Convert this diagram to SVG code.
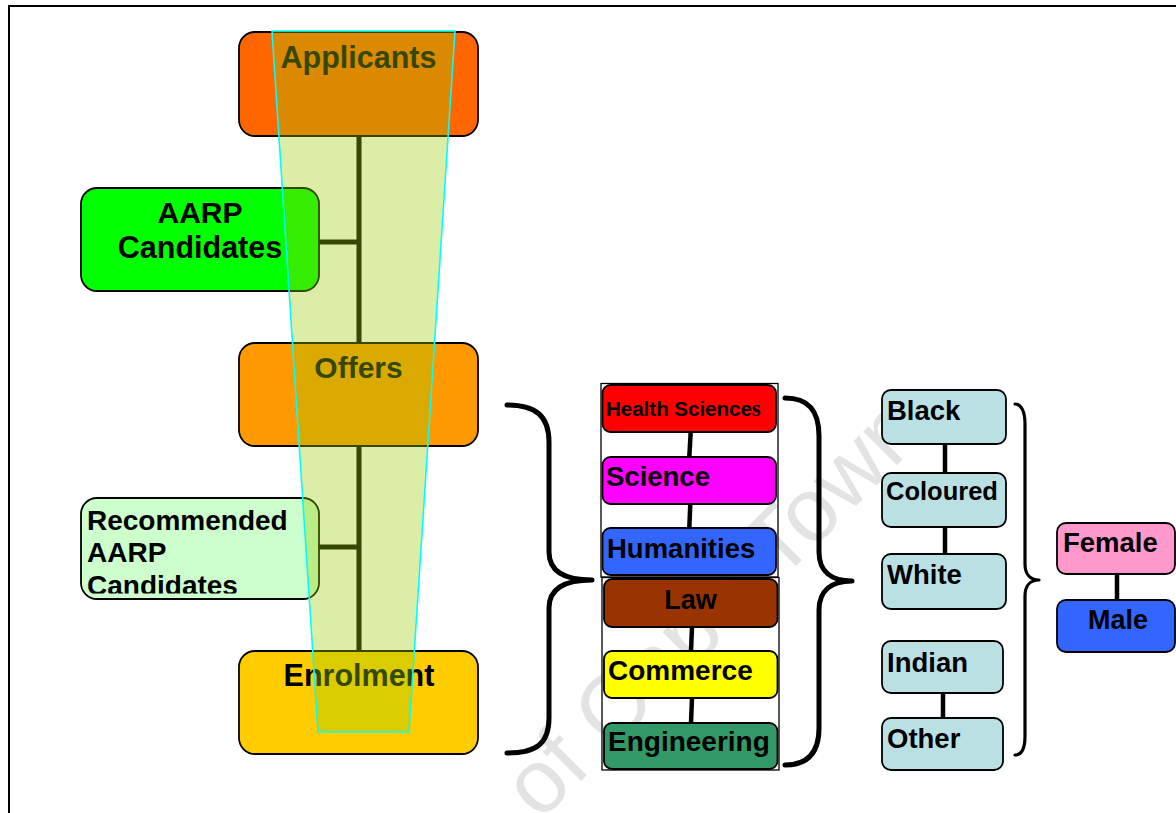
<svg xmlns="http://www.w3.org/2000/svg" width="1176" height="813" viewBox="0 0 1176 813">
  <style>
    .box { stroke:#000; stroke-width:1.8; }
    .t { font-family:"Liberation Sans", Arial, sans-serif; font-weight:bold; fill:#000; }
    .conn { stroke:#000; stroke-width:5; fill:none; }
    .thin { stroke:#000; stroke-width:4.5; fill:none; }
    .brace { fill:none; stroke:#000; stroke-width:5; stroke-linecap:round; stroke-linejoin:round; }
    .brace2 { fill:none; stroke:#000; stroke-width:3.2; stroke-linecap:round; stroke-linejoin:round; }
    .race { fill:#BBE0E3; }
    .frame { fill:none; stroke:#000; stroke-width:1.3; }
  </style>
  <defs>
    <clipPath id="recClip"><rect x="81" y="498" width="238" height="95.5"/></clipPath>
  </defs>
  <rect width="1176" height="813" fill="#fff"/>
  <path d="M9,813 V6 H1176" fill="none" stroke="#000" stroke-width="2"/>

  <g id="watermark">
    <text transform="translate(540,822) rotate(-45)" font-family="Liberation Sans, Arial, sans-serif" font-size="90" fill="#e3e3e3">of Cape Town</text>
  </g>

  <g id="connectors">
    <line class="conn" x1="359" y1="136" x2="359" y2="343"/>
    <line class="conn" x1="319" y1="242" x2="359" y2="242"/>
    <line class="conn" x1="359" y1="446" x2="359" y2="651"/>
    <line class="conn" x1="319" y1="547" x2="359" y2="547"/>
    <line class="thin" x1="690.7" y1="432" x2="689.3" y2="457"/>
    <line class="thin" x1="690.3" y1="504" x2="689.3" y2="528"/>
    <line class="thin" x1="692" y1="627" x2="691" y2="651"/>
    <line class="thin" x1="692" y1="698" x2="691" y2="723"/>
    <line class="thin" x1="945" y1="444" x2="945" y2="473"/>
    <line class="thin" x1="945" y1="527" x2="945" y2="554"/>
    <line class="thin" x1="943" y1="693" x2="943" y2="718"/>
    <line class="thin" x1="1117" y1="574" x2="1117" y2="600"/>
  </g>

  <g id="braces">
    <path class="brace" d="M507,405 C536,405 549,416 549,442 L549,552 C549,570 563,580 592,580 C563,580 549,590 549,608 L549,718 C549,744 536,753 507,753"/>
    <path class="brace" d="M785,398 C808,398 819,410 819,436 L819,552 C819,571 831,581 852,581 C831,581 819,591 819,610 L819,728 C819,752 808,765 785,765"/>
    <path class="brace2" d="M1015,404 C1021,404 1025,411 1025,424 L1025,564 C1025,574 1030,580 1039,580 C1030,580 1025,586 1025,596 L1025,736 C1025,749 1021,755 1015,755"/>
  </g>

  <g id="applicants">
    <rect class="box" x="239" y="32" width="239" height="104" rx="16" fill="#FF6600"/>
    <text class="t" x="358.5" y="68" font-size="30.5" text-anchor="middle">Applicants</text>
  </g>
  <g id="aarp">
    <rect class="box" x="81" y="188" width="238" height="103" rx="16" fill="#00FF00"/>
    <text class="t" x="200" y="223" font-size="30" text-anchor="middle">AARP</text>
    <text class="t" x="200" y="258" font-size="30.5" text-anchor="middle">Candidates</text>
  </g>
  <g id="offers">
    <rect class="box" x="239" y="343" width="239" height="103" rx="16" fill="#FF9900"/>
    <text class="t" x="358.5" y="378" font-size="30" text-anchor="middle">Offers</text>
  </g>
  <g id="recommended">
    <rect class="box" x="81" y="498" width="238" height="101" rx="16" fill="#CCFFCC"/>
    <g clip-path="url(#recClip)">
      <text class="t" x="87" y="530" font-size="28">Recommended</text>
      <text class="t" x="87" y="562" font-size="28">AARP</text>
      <text class="t" x="87" y="595" font-size="28">Candidates</text>
    </g>
  </g>
  <g id="enrolment">
    <rect class="box" x="239" y="651" width="239" height="103" rx="16" fill="#FFCC00"/>
    <text class="t" x="359" y="686" font-size="30.5" text-anchor="middle">Enrolment</text>
  </g>

  <g id="funnel">
    <polygon points="272,31 455,31 409,732 318,732" fill="#99CC00" fill-opacity="0.35" stroke="#00FFFF" stroke-width="1.6"/>
  </g>

  <g id="faculty-frames">
    <rect class="frame" x="601" y="383.5" width="177" height="193.5"/>
    <rect class="frame" x="602" y="577.5" width="177" height="192.5"/>
  </g>
  <g id="health">
    <rect class="box" x="602.5" y="385" width="173.5" height="47" rx="8" fill="#FF0000"/>
    <text class="t" x="606" y="416" font-size="20.5">Health Science<tspan font-family="Liberation Serif, Times New Roman, serif" font-size="23">s</tspan></text>
  </g>
  <g id="science">
    <rect class="box" x="602.5" y="457" width="173.5" height="47" rx="8" fill="#FF00FF"/>
    <text class="t" x="606" y="486" font-size="27.5">Science</text>
  </g>
  <g id="humanities">
    <rect class="box" x="602.5" y="528" width="173.5" height="47" rx="8" fill="#3366FF"/>
    <text class="t" x="607" y="558" font-size="27.5">Humanities</text>
  </g>
  <g id="law">
    <rect class="box" x="604" y="579" width="173.5" height="48" rx="8" fill="#993300"/>
    <text class="t" x="690.5" y="609" font-size="27" text-anchor="middle">Law</text>
  </g>
  <g id="commerce">
    <rect class="box" x="604" y="651" width="173.5" height="47" rx="8" fill="#FFFF00"/>
    <text class="t" x="608" y="680" font-size="28">Commerce</text>
  </g>
  <g id="engineering">
    <rect class="box" x="604" y="723" width="173.5" height="46" rx="8" fill="#339966"/>
    <text class="t" x="608" y="751" font-size="28">Engineering</text>
  </g>

  <g id="black">
    <rect class="box race" x="882" y="390" width="124" height="54" rx="9"/>
    <text class="t" x="887" y="420" font-size="27.5">Black</text>
  </g>
  <g id="coloured">
    <rect class="box race" x="882" y="473" width="124" height="54" rx="9"/>
    <text class="t" x="886" y="500" font-size="25.5">Coloured</text>
  </g>
  <g id="white">
    <rect class="box race" x="882" y="554" width="124" height="55" rx="9"/>
    <text class="t" x="887" y="584" font-size="27.5">White</text>
  </g>
  <g id="indian">
    <rect class="box race" x="882" y="641" width="121" height="52" rx="9"/>
    <text class="t" x="887" y="672" font-size="27.5">Indian</text>
  </g>
  <g id="other">
    <rect class="box race" x="882" y="718" width="121" height="52" rx="9"/>
    <text class="t" x="887" y="748" font-size="27.5">Other</text>
  </g>

  <g id="female">
    <rect class="box" x="1057" y="523" width="118" height="51" rx="9" fill="#FF99CC"/>
    <text class="t" x="1063" y="552" font-size="27.5">Female</text>
  </g>
  <g id="male">
    <rect class="box" x="1057" y="600" width="118" height="52" rx="9" fill="#3366FF"/>
    <text class="t" x="1118" y="629" font-size="27" text-anchor="middle">Male</text>
  </g>
</svg>
